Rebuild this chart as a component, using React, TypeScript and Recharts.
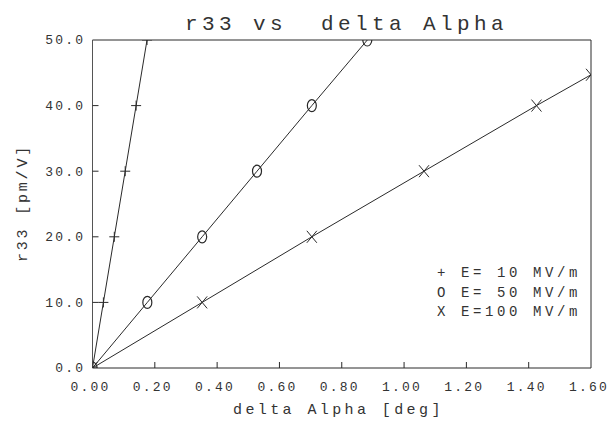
import React from 'react';
import { LineChart, Line, XAxis, YAxis, ReferenceLine } from 'recharts';

const xTicks = [0, 0.2, 0.4, 0.6, 0.8, 1.0, 1.2, 1.4, 1.6];
const yTicks = [0, 10, 20, 30, 40, 50];

const e10X = [0, 0.035, 0.07, 0.105, 0.14, 0.175];
const e10Y = [0, 10, 20, 30, 40, 50];
const e50X = [0, 0.176, 0.352, 0.528, 0.704, 0.882];
const e50Y = [0, 10, 20, 30, 40, 50];
const e100X = [0, 0.352, 0.704, 1.064, 1.425, 1.6];
const e100Y = [0, 10, 20, 30, 40, 44.7];

const legendLabels = ['+ E= 10 MV/m', 'O E= 50 MV/m', 'X E=100 MV/m'];
const titleText = 'r33 vs  delta Alpha';
const xTitle = 'delta Alpha [deg]';
const yTitle = 'r33 [pm/V]';

const toRows = (xs: number[], ys: number[]) => xs.map((x, i) => ({ x, y: ys[i] }));
const e10 = toRows(e10X, e10Y);
const e50 = toRows(e50X, e50Y);
const e100 = toRows(e100X, e100Y);

const FONT = '"Liberation Mono", "DejaVu Sans Mono", monospace';
const INK = '#2a2a2a';
const TXT = '#333';

const PlusDot = (p: any) => {
  const { cx, cy } = p;
  if (cx == null || cy == null) return <g key={p.key} />;
  return (
    <g key={p.key} stroke={INK} strokeWidth={1}>
      <line x1={cx - 5} y1={cy} x2={cx + 5} y2={cy} />
      <line x1={cx} y1={cy - 5} x2={cx} y2={cy + 5} />
    </g>
  );
};
const CircleDot = (p: any) => {
  const { cx, cy } = p;
  if (cx == null || cy == null) return <g key={p.key} />;
  return <ellipse key={p.key} cx={cx} cy={cy} rx={4.5} ry={6} fill="none" stroke={INK} strokeWidth={1.2} />;
};
const CrossDot = (p: any) => {
  const { cx, cy } = p;
  if (cx == null || cy == null) return <g key={p.key} />;
  return (
    <g key={p.key} stroke={INK} strokeWidth={1}>
      <line x1={cx - 5} y1={cy - 6} x2={cx + 5} y2={cy + 6} />
      <line x1={cx - 5} y1={cy + 6} x2={cx + 5} y2={cy - 6} />
    </g>
  );
};

const XTick = (p: any) => {
  const { x, y, payload } = p;
  return (
    <g>
      {payload.value > 0 && payload.value < 1.6 ? (
        <line x1={x} y1={y} x2={x} y2={y - 6} stroke={INK} strokeWidth={1} />
      ) : null}
      <text x={x - 2} y={y + 23.3} textAnchor="middle" fontFamily={FONT} fontSize={13} letterSpacing={2.2} fill={TXT}>
        {Number(payload.value).toFixed(2)}
      </text>
    </g>
  );
};
const YTick = (p: any) => {
  const { x, y, payload } = p;
  return (
    <g>
      {payload.value > 0 && payload.value < 50 ? (
        <line x1={x} y1={y} x2={x + 6} y2={y} stroke={INK} strokeWidth={1} />
      ) : null}
      <text x={x - 7.3} y={y + 4.3} textAnchor="end" fontFamily={FONT} fontSize={13} letterSpacing={2.2} fill={TXT}>
        {Number(payload.value).toFixed(1)}
      </text>
    </g>
  );
};

export default function App() {
  return (
    <div style={{ position: 'absolute', left: 0, top: 0, width: 612, height: 424, background: '#fff' }}>
      <LineChart width={612} height={424} margin={{ top: 40, right: 21, bottom: 26, left: 32 }}>
        <XAxis
          dataKey="x"
          type="number"
          domain={[0, 1.6]}
          ticks={xTicks}
          allowDataOverflow
          height={30}
          tickSize={0}
          tickMargin={0}
          tickLine={false}
          axisLine={{ stroke: INK, strokeWidth: 1 }}
          tick={<XTick />}
          interval={0}
        />
        <YAxis
          dataKey="y"
          type="number"
          domain={[0, 50]}
          ticks={yTicks}
          allowDataOverflow
          width={60.5}
          tickSize={0}
          tickMargin={0}
          tickLine={false}
          axisLine={{ stroke: '#555', strokeWidth: 1 }}
          tick={<YTick />}
          interval={0}
        />
        <ReferenceLine y={50} stroke={INK} strokeWidth={1} />
        <ReferenceLine x={1.6} stroke={INK} strokeWidth={1} />
        <Line data={e10} dataKey="y" name="E=10" type="linear" stroke={INK} strokeWidth={1} dot={PlusDot} isAnimationActive={false} />
        <Line data={e50} dataKey="y" name="E=50" type="linear" stroke={INK} strokeWidth={1} dot={CircleDot} isAnimationActive={false} />
        <Line data={e100} dataKey="y" name="E=100" type="linear" stroke={INK} strokeWidth={1} dot={CrossDot} isAnimationActive={false} />
      </LineChart>
      <div style={{ position: 'absolute', left: 437, top: 264, fontFamily: FONT, fontSize: 14, lineHeight: '19.5px', letterSpacing: 3.6, color: TXT, whiteSpace: 'pre' }}>
        {legendLabels.map((l) => (
          <div key={l}>{l}</div>
        ))}
      </div>
      <div style={{ position: 'absolute', left: 185, top: 14, fontFamily: FONT, fontSize: 21, lineHeight: '21px', letterSpacing: 4.4, color: TXT, whiteSpace: 'pre' }}>
        {titleText}
      </div>
      <div style={{ position: 'absolute', left: 233, top: 402.5, fontFamily: FONT, fontSize: 15, lineHeight: '15px', letterSpacing: 3.4, color: TXT, whiteSpace: 'pre' }}>
        {xTitle}
      </div>
      <div style={{ position: 'absolute', left: 15.5, top: 262, transformOrigin: 'left top', transform: 'rotate(-90deg)', fontFamily: FONT, fontSize: 15, lineHeight: '15px', letterSpacing: 2.8, color: TXT, whiteSpace: 'pre' }}>
        {yTitle}
      </div>
    </div>
  );
}
